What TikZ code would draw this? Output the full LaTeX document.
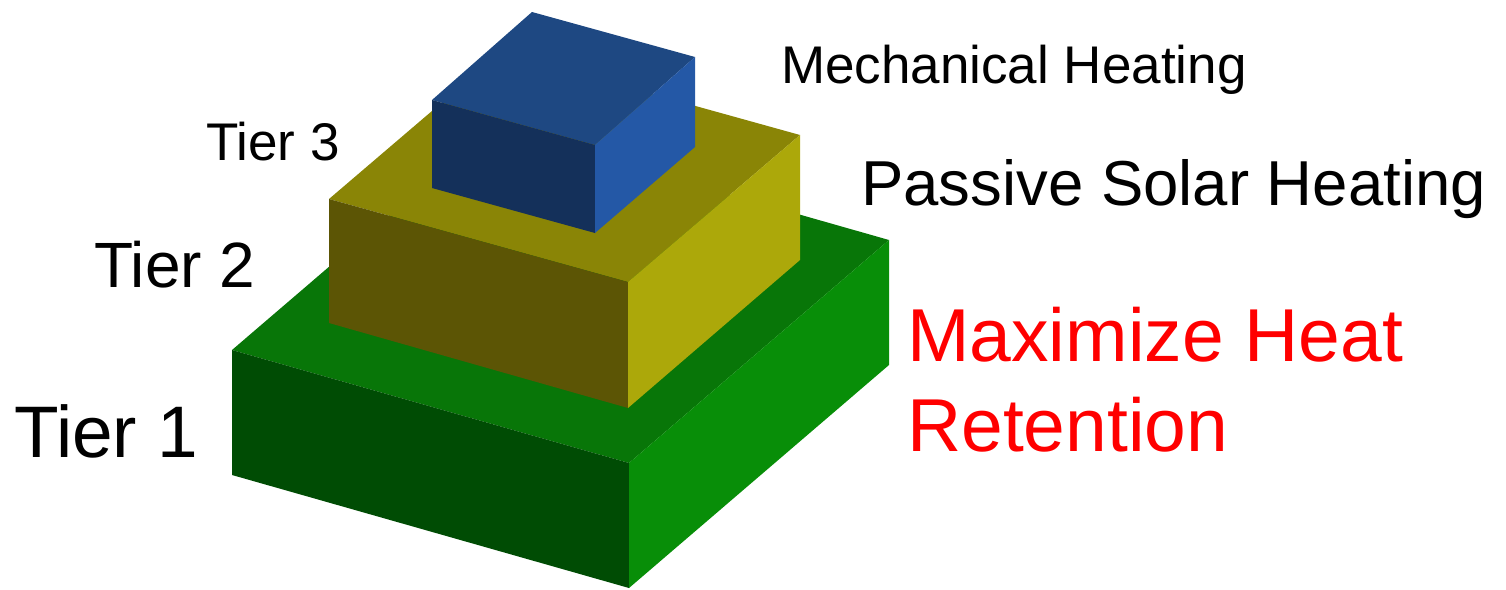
\documentclass[tikz,border=0pt]{standalone}
\usepackage{fontspec}
\setmainfont{Liberation Sans}

\definecolor{greentop}{RGB}{8,118,8}
\definecolor{greenfront}{RGB}{0,76,4}
\definecolor{greenside}{RGB}{8,142,8}
\definecolor{olivetop}{RGB}{138,133,6}
\definecolor{olivefront}{RGB}{92,85,5}
\definecolor{oliveside}{RGB}{172,168,10}
\definecolor{bluetop}{RGB}{30,72,130}
\definecolor{bluefront}{RGB}{20,48,90}
\definecolor{blueside}{RGB}{36,88,166}

\begin{document}
\begin{tikzpicture}[x=1pt, y=-1pt, every node/.style={inner sep=0pt, anchor=base west}]
		\useasboundingbox (0,0) rectangle (1506,589);
		
		% Tier 1 box
		\coordinate (G1) at (232,350);
		\coordinate (G2) at (629,463);
		\coordinate (G3) at (889,240);
		\coordinate (G4) at (492,127);
		\coordinate (G1b) at (232,475);
		\coordinate (G2b) at (629,588);
		\coordinate (G3b) at (889,365);
		
		% Tier 2 box
		\coordinate (Y1) at (329,199);
		\coordinate (Y2) at (628,282);
		\coordinate (Y3) at (800,135);
		\coordinate (Y4) at (501,52);
		\coordinate (Y1b) at (329,323);
		\coordinate (Y2b) at (628,408);
		\coordinate (Y3b) at (800,260);
		
		% Tier 3 box
		\coordinate (B1) at (432,100);
		\coordinate (B2) at (595,145);
		\coordinate (B3) at (695,57);
		\coordinate (B4) at (532,12);
		\coordinate (B1b) at (432,188);
		\coordinate (B2b) at (595,233);
		\coordinate (B3b) at (695,147);
		
		% Draw faces, bottom tier first
		\fill[greentop] (G1) -- (G4) -- (G3) -- (G2) -- cycle;
		\fill[greenfront] (G1) -- (G2) -- (G2b) -- (G1b) -- cycle;
		\fill[greenside] (G2) -- (G3) -- (G3b) -- (G2b) -- cycle;
		
		\fill[olivetop] (Y1) -- (Y4) -- (Y3) -- (Y2) -- cycle;
		\fill[olivefront] (Y1) -- (Y2) -- (Y2b) -- (Y1b) -- cycle;
		\fill[oliveside] (Y2) -- (Y3) -- (Y3b) -- (Y2b) -- cycle;
		
		\fill[bluetop] (B1) -- (B4) -- (B3) -- (B2) -- cycle;
		\fill[bluefront] (B1) -- (B2) -- (B2b) -- (B1b) -- cycle;
		\fill[blueside] (B2) -- (B3) -- (B3b) -- (B2b) -- cycle;
		
		% Labels
		\node[font=\fontsize{73}{80}\selectfont] (tier1) at (14,457) {Tier 1};
		\node[font=\fontsize{64}{70}\selectfont] (tier2) at (94,287) {Tier 2};
		\node[font=\fontsize{53}{60}\selectfont] (tier3) at (206,160) {Tier 3};
		\node[font=\fontsize{53}{60}\selectfont] (mech) at (781,83) {Mechanical Heating};
		\node[font=\fontsize{63.5}{70}\selectfont] (passive) at (861,205) {Passive Solar Heating};
		\node[font=\fontsize{75}{90}\selectfont, text=red] (maxheat) at (907,361) {Maximize Heat};
		\node[font=\fontsize{75}{90}\selectfont, text=red] (retention) at (907,451) {Retention};
	\end{tikzpicture}
\end{document}
